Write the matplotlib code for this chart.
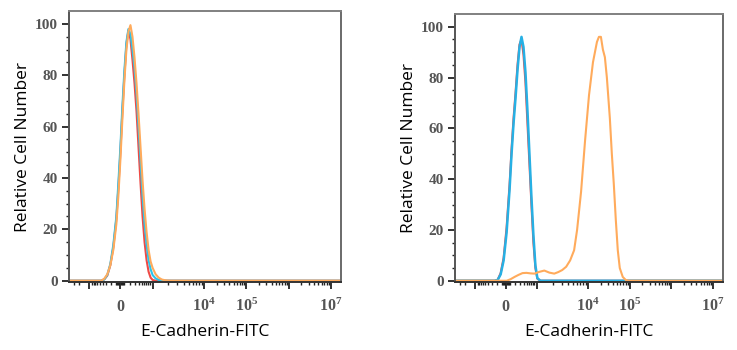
import numpy as np
import matplotlib
matplotlib.use("Agg")
import matplotlib.pyplot as plt

plt.rcParams['mathtext.fontset'] = 'custom'
plt.rcParams['mathtext.rm'] = 'Liberation Serif'
plt.rcParams['mathtext.bf'] = 'Liberation Serif:bold'

# ---------------- data (x in display channels of the logicle axis) ----------------
left_x = [0, 32, 35, 38, 41, 44, 47, 49, 51, 53, 55, 57, 59, 61, 63, 65, 67, 69, 71,
          73, 75, 77, 79, 81, 83, 86, 89, 92, 95, 98, 101, 270]
left_red = [0, 0, 0.5, 2, 6, 13, 24, 36, 50, 66, 80, 92, 97.5, 94, 86, 77, 66, 52, 38,
            25, 15, 8, 3.5, 1.2, 0.3, 0, 0, 0, 0, 0, 0, 0]
left_cyan = [0, 0, 0.5, 2.2, 6.5, 14, 25, 38, 52, 68, 82, 93, 98, 96, 90, 83, 73, 60, 47,
             33, 22, 14, 8, 4.5, 2.2, 0.9, 0.3, 0.1, 0, 0, 0, 0]
left_orange = [0, 0, 0.8, 2.5, 6, 12, 22, 33, 47, 63, 78, 90, 97, 99.5, 95, 87, 77, 65, 52,
               39, 28, 19, 12, 7.5, 5, 2.5, 1.2, 0.5, 0.2, 0.05, 0, 0]

right_x = [0, 40, 43, 46, 49, 52, 55, 57, 59, 61, 63, 65, 67, 69, 71, 73, 75, 77, 79,
           81, 83, 86, 270]
right_red = [0, 0, 0.4, 3, 9, 21, 38, 52, 64, 74, 85, 93, 95, 89, 78, 62, 46, 30, 15,
             5, 0.8, 0, 0]
right_blue = [0, 0, 0.3, 2.5, 8, 19, 36, 50, 62, 72, 83, 92, 96, 92, 82, 67, 50, 33, 18,
              6, 1, 0, 0]
right_orange_x = [0, 52, 56, 60, 64, 68, 72, 76, 80, 85, 90, 95, 100, 104, 108, 112, 116,
                  120, 123, 127, 131, 135, 139, 143, 145, 147, 149, 151, 153, 156, 158,
                  160, 162, 164, 166, 169, 172, 175, 270]
right_orange = [0, 0, 0.6, 1.5, 2.3, 3, 3.1, 2.9, 2.8, 3.5, 4, 3.2, 2.8, 3.4, 4.2, 5.5, 8,
                12, 20, 35, 55, 73, 86, 94, 96, 96, 91, 88, 80, 64, 50, 38, 24, 12, 5,
                1.5, 0.3, 0, 0]

x_tick_pos = [20, 51, 83, 134, 176, 218, 260]
x_tick_labels = ['', r'$\mathbf{0}$', '', r'$\mathbf{10^{4}}$', r'$\mathbf{10^{5}}$', '',
                 r'$\mathbf{10^{7}}$']
y_ticks = [0, 20, 40, 60, 80, 100]
x_label = 'E-Cadherin-FITC'
y_label = 'Relative Cell Number'

RED = '#ef4a45'
CYAN = '#2cc3ea'
BLUE = '#27b0e4'
ORANGE = '#ffab5c'

# minor tick positions of the logicle-like axis
minor = []
for d0, d1 in [(83, 134), (134, 176), (176, 218), (218, 260)]:
    for m in range(2, 10):
        minor.append(d0 + (d1 - d0) * np.log10(m))
for m in range(2, 10):
    minor.append(51 + 32 * np.log10(m) * 0.95)
    minor.append(51 - 31 * np.log10(m) * 0.95)
minor += [47, 48, 49, 50, 52, 53, 54, 55, 5, 10]

fig = plt.figure(figsize=(7.37, 3.5), dpi=100)
ax1 = fig.add_axes([69 / 737, 1 - 282 / 350, (341 - 69) / 737, (282 - 11) / 350])
ax2 = fig.add_axes([455 / 737, 1 - 282 / 350, (723 - 455) / 737, (282 - 14) / 350])

ax1.plot(left_x, left_red, color=RED, lw=1.5)
ax1.plot(left_x, left_cyan, color=CYAN, lw=1.5)
ax1.plot(left_x, left_orange, color=ORANGE, lw=1.5)

ax2.plot(right_x, right_red, color=RED, lw=1.5)
ax2.plot(right_x, right_blue, color=BLUE, lw=1.8)
ax2.plot(right_orange_x, right_orange, color=ORANGE, lw=1.5)

for ax in (ax1, ax2):
    ax.set_xlim(0, 270)
    ax.set_ylim(-0.5, 105)
    ax.set_xticks(x_tick_pos)
    ax.set_xticklabels(x_tick_labels)
    ax.set_xticks(minor, minor=True)
    ax.set_yticks(y_ticks)
    ax.set_yticks(np.arange(0, 101, 5), minor=True)
    ax.tick_params(axis='both', which='major', direction='out', length=5, width=1.3,
                   color='#222222')
    ax.tick_params(axis='both', which='minor', direction='out', length=2.5, width=1.0,
                   color='#222222')
    ax.tick_params(axis='x', which='major', pad=16, labelsize=11.5, labelcolor='#555555')
    ax.tick_params(axis='y', which='major', pad=3, labelsize=11, labelcolor='#555555')
    for lbl in ax.get_yticklabels():
        lbl.set_fontfamily('Liberation Serif')
        lbl.set_fontweight('bold')
    for lbl in ax.get_xticklabels():
        lbl.set_va('baseline')
    ax.spines['top'].set_color('#808080')
    ax.spines['right'].set_color('#6a6a6a')
    ax.spines['left'].set_color('#555555')
    ax.spines['bottom'].set_color('#333333')
    for s in ax.spines.values():
        s.set_linewidth(1.4)
    ax.set_xlabel(x_label, fontsize=12.5, family='Open Sans', labelpad=7)
    ax.set_ylabel(y_label, fontsize=12.5, family='Open Sans', labelpad=3)

fig.savefig('out.png', dpi=100)
